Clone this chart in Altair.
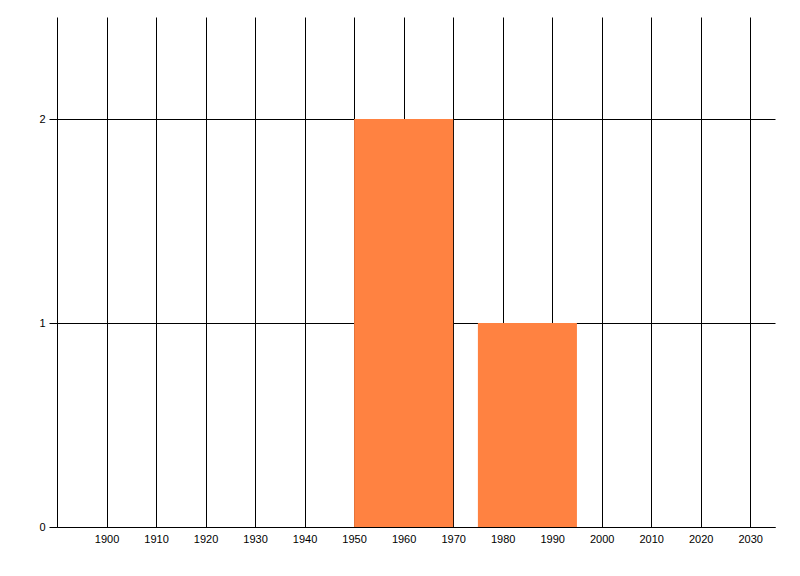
import altair as alt
import pandas as pd

starts = [1950, 1975]
ends = [1970, 1995]
counts = [2, 1]
x_ticks = [1900, 1910, 1920, 1930, 1940, 1950, 1960, 1970, 1980, 1990, 2000, 2010, 2020, 2030]
y_ticks = [0, 1, 2]

df = pd.DataFrame({"start": starts, "end": ends, "count": counts})

FONT = "Liberation Sans"

chart = alt.Chart(df).mark_rect(color="#FF8241").encode(
    x=alt.X("start:Q",
            scale=alt.Scale(domain=[1890, 2035], nice=False, zero=False),
            axis=alt.Axis(values=x_ticks, title=None, ticks=False, labelPadding=6,
                          grid=True, gridColor="black", gridOpacity=1, gridWidth=1,
                          domainColor="black", domainWidth=1, labelColor="black",
                          labelFont=FONT, labelFontSize=11, format="d",
                          labelFlush=False)),
    x2="end:Q",
    y=alt.Y("count:Q",
            scale=alt.Scale(domain=[0, 2.5], nice=False),
            axis=alt.Axis(values=y_ticks, title=None, tickSize=8, tickColor="black",
                          grid=True, gridColor="black", gridOpacity=1, gridWidth=1,
                          domainColor="black", domainWidth=1, labelColor="black",
                          labelFont=FONT, labelFontSize=11, labelPadding=4,
                          labelFlush=False)),
    y2=alt.datum(0),
).properties(
    width=718,
    height=510,
    padding={"left": 49, "top": 9, "right": 17, "bottom": 41},
    autosize="none",
).configure_view(stroke=None).configure_axis(zindex=0)

chart.save("out.html", embed_options={"renderer": "svg", "actions": False})
